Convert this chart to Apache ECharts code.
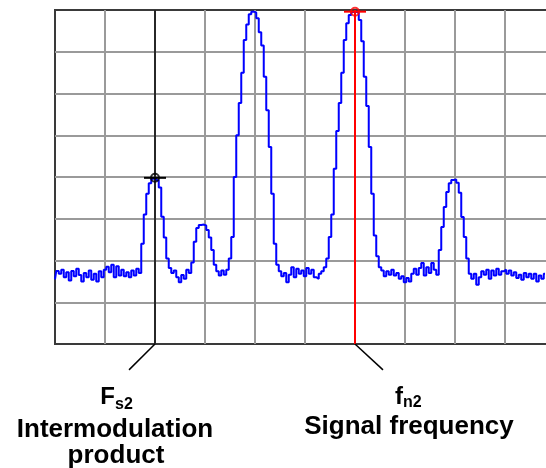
<!DOCTYPE html>
<html><head><meta charset="utf-8">
<script src="https://cdn.jsdelivr.net/npm/echarts@6/dist/echarts.min.js"></script>
<style>html,body{margin:0;padding:0;background:#fff}#c{width:546px;height:468px}</style>
</head><body><div id="c"></div>
<script>
// Spectrum trace: amplitude per frequency bin (grid units: 10 per division)
const binStart = 0;
const binWidth = 0.5;
const amplitude = [
  15.5,17.5,16.8,17.8,16.0,17.2,15.2,17.5,16.2,18.0,
  16.5,15.0,17.0,16.0,17.6,15.4,16.8,15.0,17.4,16.0,
  17.8,18.5,17.2,19.0,16.0,18.6,16.4,17.8,16.2,17.2,
  16.0,17.6,16.4,18.0,17.0,24.0,31.0,36.0,38.5,39.6,
  39.8,39.2,37.5,30.5,25.5,20.5,18.2,17.0,17.6,16.0,
  14.8,16.5,15.6,17.8,17.0,19.5,24.5,27.8,28.5,28.6,
  28.4,27.3,25.5,22.5,19.0,17.4,16.4,17.6,16.6,17.8,
  20.5,25.6,40.0,50.0,57.7,65.0,72.8,76.5,79.0,79.6,
  79.4,78.0,74.7,71.5,64.0,56.0,47.2,36.0,24.0,19.0,
  17.4,16.2,17.0,14.8,16.6,18.4,16.0,18.0,16.8,17.6,
  16.2,18.2,16.8,17.8,16.0,15.6,16.8,17.4,18.4,20.5,
  25.6,31.0,42.0,51.0,57.7,65.0,72.8,76.8,78.8,79.5,
  79.6,79.3,77.6,72.5,64.0,57.0,47.2,36.0,26.0,21.0,
  18.4,17.6,16.2,17.4,16.6,17.8,16.4,17.0,15.6,16.2,
  14.8,15.8,15.0,16.8,18.0,16.6,18.2,19.4,16.4,18.4,
  17.0,19.4,17.8,16.6,22.5,28.0,32.8,36.4,38.5,39.3,
  39.4,38.6,36.2,30.4,25.6,20.5,16.8,15.6,16.8,14.2,
  16.0,17.4,16.6,17.8,15.6,17.6,16.4,18.0,16.6,17.4,
  17.8,16.8,17.6,16.4,17.2,15.8,16.6,15.4,17.0,16.0,
  16.8,15.6,16.8,15.0,16.4,15.6,16.8
];
// Marker positions [frequency, amplitude]
const imMarker = [20, 39.8];
const sigMarker = [60, 79.6];
// Marker tick half width (frequency units)
const markerTick = 2.2;
// Leader lines below the plot [frequency, amplitude]
const imLeader = [[20, 0], [14.8, -6.2]];
const sigLeader = [[60, 0], [65.6, -6.2]];
// Axis ranges
const xRange = [0, 100, 10];
const yRange = [0, 80, 10];
// Annotation texts
const imLabel = {main: 'F', sub: 's2', lines: ['Intermodulation', 'product']};
const sigLabel = {main: 'f', sub: 'n2', lines: ['Signal frequency']};

const traceData = amplitude.map((v, i) => [binStart + i * binWidth, v]);

const chart = echarts.init(document.getElementById('c'), null, {renderer: 'canvas'});
const FONT = '"Liberation Sans", Arial, sans-serif';

chart.setOption({
  animation: false,
  backgroundColor: '#fff',
  grid: {left: 55, top: 10, width: 500, height: 334, show: true, containLabel: false,
         outerBoundsMode: 'none',
         borderColor: '#3a3a3a', borderWidth: 2, backgroundColor: '#fff'},
  xAxis: {type: 'value', min: xRange[0], max: xRange[1], interval: xRange[2],
    axisLine: {show: false}, axisTick: {show: false}, axisLabel: {show: false},
    splitLine: {show: true, showMinLine: false, showMaxLine: false,
      lineStyle: {color: '#9a9a9a', width: 2}}},
  yAxis: {type: 'value', min: yRange[0], max: yRange[1], interval: yRange[2],
    axisLine: {show: false}, axisTick: {show: false}, axisLabel: {show: false},
    splitLine: {show: true, showMinLine: false, showMaxLine: false,
      lineStyle: {color: '#9a9a9a', width: 2}}},
  series: [
    {type: 'line', data: traceData, step: 'middle', showSymbol: false, z: 3,
     lineStyle: {color: '#0000ff', width: 2}},
    {type: 'line', data: [[imMarker[0], yRange[0]], [imMarker[0], yRange[1]]], showSymbol: false, z: 4,
     lineStyle: {color: '#000', width: 1.5}},
    {type: 'line', data: [[sigMarker[0], yRange[0]], [sigMarker[0], yRange[1]]], showSymbol: false, z: 4,
     lineStyle: {color: '#ff0000', width: 2}},
    {type: 'line', data: imLeader, showSymbol: false, clip: false, z: 4,
     lineStyle: {color: '#000', width: 1.5}},
    {type: 'line', data: sigLeader, showSymbol: false, clip: false, z: 4,
     lineStyle: {color: '#000', width: 1.5}},
    {type: 'line', data: [[imMarker[0] - markerTick, imMarker[1]], [imMarker[0] + markerTick, imMarker[1]]],
     showSymbol: false, z: 5, lineStyle: {color: '#000', width: 2}},
    {type: 'line', data: [[sigMarker[0] - markerTick, sigMarker[1]], [sigMarker[0] + markerTick, sigMarker[1]]],
     showSymbol: false, z: 5, clip: false, lineStyle: {color: '#ff0000', width: 2}},
    {type: 'scatter', data: [imMarker], symbol: 'circle', symbolSize: 8, z: 6,
     itemStyle: {color: 'rgba(0,0,0,0)', borderColor: '#000', borderWidth: 2}},
    {type: 'scatter', data: [sigMarker], symbol: 'circle', symbolSize: 8, z: 6, clip: false,
     itemStyle: {color: 'rgba(0,0,0,0)', borderColor: '#ff0000', borderWidth: 2}}
  ]
});

function txt(x, y, text, size, align) {
  return {type: 'text', x: x, y: y, z: 10,
    style: {text: text, font: 'bold ' + size + 'px ' + FONT, fill: '#000',
      textAlign: align, textVerticalAlign: 'middle', align: align, verticalAlign: 'middle'}};
}
const pIm = chart.convertToPixel({gridIndex: 0}, [imMarker[0], yRange[0]]);
const pSig = chart.convertToPixel({gridIndex: 0}, [sigMarker[0], yRange[0]]);
const els = [
  txt(pIm[0] - 40, pIm[1] + 53, imLabel.main, 24, 'right'),
  txt(pIm[0] - 40, pIm[1] + 60.5, imLabel.sub, 16, 'left'),
  txt(pIm[0] - 40, pIm[1] + 85.5, imLabel.lines[0], 26, 'center'),
  txt(pIm[0] - 39, pIm[1] + 111.5, imLabel.lines[1], 26, 'center'),
  txt(pSig[0] + 48, pSig[1] + 53, sigLabel.main, 24, 'right'),
  txt(pSig[0] + 48, pSig[1] + 59, sigLabel.sub, 16, 'left'),
  txt(pSig[0] + 54, pSig[1] + 83, sigLabel.lines[0], 26, 'center')
];
chart.setOption({graphic: {elements: els}});
</script></body></html>
